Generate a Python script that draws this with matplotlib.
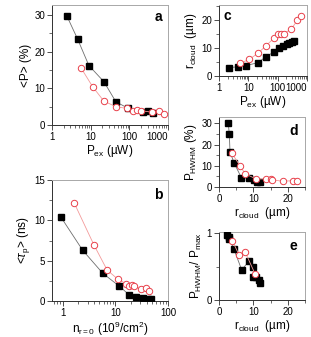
import matplotlib
matplotlib.use("Agg")
import matplotlib.pyplot as plt
from matplotlib.ticker import FixedLocator, MultipleLocator, LogLocator, NullFormatter

plt.rcParams.update({
    "font.family": ["Liberation Sans", "DejaVu Sans"],
    "mathtext.fontset": "custom",
    "mathtext.rm": "Liberation Sans",
    "mathtext.it": "Liberation Sans:italic",
    "font.size": 7,
})

# panel a : <P> vs P_ex
a_sq_x = [2.4, 4.6, 9.0, 22, 45, 92, 230, 300, 420]
a_sq_y = [29.8, 23.4, 16.2, 11.8, 6.3, 4.6, 3.5, 3.7, 3.3]
a_ci_x = [5.6, 11.3, 22, 45, 88, 125, 160, 200, 380, 600, 800]
a_ci_y = [15.6, 10.4, 6.5, 5.0, 4.5, 3.9, 4.1, 3.9, 3.5, 3.7, 3.1]

# panel b : <tau_p> vs n_r=0
b_sq_x = [0.92, 2.4, 5.8, 11.8, 18.5, 25, 34, 41, 48]
b_sq_y = [10.45, 6.3, 3.43, 1.86, 0.74, 0.48, 0.35, 0.3, 0.25]
b_ci_x = [1.65, 3.9, 7.0, 11.2, 16.0, 18.5, 21, 23, 31, 38, 44]
b_ci_y = [12.2, 7.0, 3.84, 2.7, 2.15, 1.86, 1.94, 1.8, 1.45, 1.57, 1.2]

# panel c : r_cloud vs P_ex
c_sq_x = [2.2, 4.4, 8.1, 21, 40, 77, 114, 156, 204, 250, 300, 363]
c_sq_y = [3.0, 3.3, 3.7, 4.75, 6.9, 8.7, 9.9, 10.7, 11.4, 11.9, 12.3, 12.6]
c_ci_x = [5.2, 10.8, 21, 40, 77, 106, 130, 160, 290, 470, 630]
c_ci_y = [4.5, 5.95, 8.1, 10.8, 13.7, 14.9, 15.2, 15.2, 16.7, 20.0, 21.5]

# panel d : P_HWHM vs r_cloud
d_sq_x = [2.7, 3.0, 3.2, 4.4, 6.5, 8.6, 10.1, 11.1, 11.9]
d_sq_y = [30.0, 24.9, 16.5, 11.3, 4.4, 4.1, 3.3, 2.5, 2.4]
d_ci_x = [3.7, 6.2, 7.6, 10.8, 13.8, 15.2, 15.5, 18.5, 21.5, 22.8]
d_ci_y = [16.0, 9.8, 6.2, 3.8, 3.8, 4.0, 3.4, 2.7, 3.0, 3.0]

# panel e : P_HWHM / P_max vs r_cloud
e_sq_x = [2.3, 2.8, 3.0, 4.3, 6.6, 8.8, 10.0, 10.0, 10.8, 11.5, 11.8]
e_sq_y = [0.97, 0.945, 0.92, 0.77, 0.45, 0.59, 0.50, 0.35, 0.34, 0.30, 0.26]
e_ci_x = [3.9, 5.9, 7.6, 10.5]
e_ci_y = [0.885, 0.67, 0.72, 0.39]

SQ_LINE = "#6e6e6e"
CI_LINE = "#f39a9a"
CI_EDGE = "#e8404a"

W, H = 311, 337


def px_axes(fig, left, top, right, bottom):
    return fig.add_axes([left / W, 1 - bottom / H, (right - left) / W, (bottom - top) / H])


def draw_series(ax, sx, sy, cx, cy):
    ax.plot(sx, sy, color=SQ_LINE, lw=0.6, marker="s", ms=4.0,
            mfc="black", mec="black", zorder=3)
    ax.plot(cx, cy, color=CI_LINE, lw=0.6, marker="o", ms=4.6,
            mfc="white", mec=CI_EDGE, mew=0.7, zorder=4)


def style(ax):
    for s in ("top", "right"):
        ax.spines[s].set_color("#a8a8a8")
    for s in ("left", "bottom"):
        ax.spines[s].set_color("#303030")
    for s in ax.spines.values():
        s.set_linewidth(0.7)
    ax.tick_params(which="major", direction="out", length=3.5, width=0.6,
                   labelsize=7, pad=1.5, color="#303030")
    ax.tick_params(which="minor", direction="out", length=2, width=0.5, color="#303030")


def log_x(ax, lo, hi, ticks, last_right=False):
    ax.set_xscale("log")
    ax.set_xlim(lo, hi)
    ax.xaxis.set_major_locator(FixedLocator(ticks))
    ax.set_xticklabels([str(t) for t in ticks])
    ax.xaxis.set_minor_locator(LogLocator(base=10, subs=range(2, 10)))
    ax.xaxis.set_minor_formatter(NullFormatter())
    if last_right:
        ax.xaxis.get_major_ticks()[-1].label1.set_horizontalalignment("right")


fig = plt.figure(figsize=(W / 100, H / 100), dpi=100)

lab = 8.5

# a
ax = px_axes(fig, 52, 5, 168, 125)
draw_series(ax, a_sq_x, a_sq_y, a_ci_x, a_ci_y)
style(ax)
log_x(ax, 1, 1000, [1, 10, 100, 1000], last_right=True)
ax.set_ylim(0, 32.7)
ax.yaxis.set_major_locator(MultipleLocator(10))
ax.yaxis.set_minor_locator(MultipleLocator(5))
ax.set_ylabel("<P> (%)", fontsize=lab, labelpad=2)
ax.set_xlabel(r"P$_{\rm ex}$ (µW)", fontsize=lab, labelpad=1)
ax.text(0.92, 0.9, "a", transform=ax.transAxes, fontsize=10, fontweight="bold", ha="center", va="center")

# b
ax = px_axes(fig, 52, 180, 168, 301)
draw_series(ax, b_sq_x, b_sq_y, b_ci_x, b_ci_y)
style(ax)
log_x(ax, 0.63, 100, [1, 10, 100])
ax.set_ylim(0, 15)
ax.yaxis.set_major_locator(MultipleLocator(5))
ax.yaxis.set_minor_locator(MultipleLocator(2.5))
ax.set_ylabel(r"<$\tau_{\rm p}$> (ns)", fontsize=lab, labelpad=2)
ax.set_xlabel(r"n$_{\rm r=0}$ (10$^{9}$/cm$^{2}$)", fontsize=lab, labelpad=1)
ax.text(0.92, 0.88, "b", transform=ax.transAxes, fontsize=10, fontweight="bold", ha="center", va="center")

# c
ax = px_axes(fig, 219, 5, 307, 76)
draw_series(ax, c_sq_x, c_sq_y, c_ci_x, c_ci_y)
style(ax)
log_x(ax, 1, 1000, [1, 10, 100, 1000], last_right=True)
ax.set_ylim(0, 25.4)
ax.yaxis.set_major_locator(MultipleLocator(10))
ax.yaxis.set_minor_locator(MultipleLocator(5))
ax.set_ylabel(r"r$_{\rm cloud}$  (µm)", fontsize=lab, labelpad=2)
ax.set_xlabel(r"P$_{\rm ex}$ (µW)", fontsize=lab, labelpad=1)
ax.text(0.09, 0.85, "c", transform=ax.transAxes, fontsize=10, fontweight="bold", ha="center", va="center")

# d
ax = px_axes(fig, 219, 117, 305, 187)
draw_series(ax, d_sq_x, d_sq_y, d_ci_x, d_ci_y)
style(ax)
ax.set_xlim(0, 25)
ax.set_ylim(0, 33)
ax.xaxis.set_major_locator(MultipleLocator(10))
ax.xaxis.set_minor_locator(MultipleLocator(5))
ax.yaxis.set_major_locator(MultipleLocator(10))
ax.yaxis.set_minor_locator(MultipleLocator(5))
ax.set_ylabel(r"P$_{\rm HWHM}$ (%)", fontsize=lab, labelpad=2)
ax.set_xlabel(r"r$_{\rm cloud}$  (µm)", fontsize=lab, labelpad=1)
ax.text(0.87, 0.8, "d", transform=ax.transAxes, fontsize=10, fontweight="bold", ha="center", va="center")

# e
ax = px_axes(fig, 219, 232, 305, 300)
draw_series(ax, e_sq_x, e_sq_y, e_ci_x, e_ci_y)
style(ax)
ax.set_xlim(0, 25)
ax.set_ylim(0, 1.02)
ax.xaxis.set_major_locator(MultipleLocator(10))
ax.xaxis.set_minor_locator(MultipleLocator(5))
ax.yaxis.set_major_locator(MultipleLocator(1))
ax.yaxis.set_minor_locator(MultipleLocator(0.5))
ax.set_ylabel(r"P$_{\rm HWHM}$/ P$_{\rm max}$", fontsize=lab, labelpad=2)
ax.set_xlabel(r"r$_{\rm cloud}$  (µm)", fontsize=lab, labelpad=1)
ax.text(0.87, 0.8, "e", transform=ax.transAxes, fontsize=10, fontweight="bold", ha="center", va="center")

fig.savefig("out.png", dpi=100)
